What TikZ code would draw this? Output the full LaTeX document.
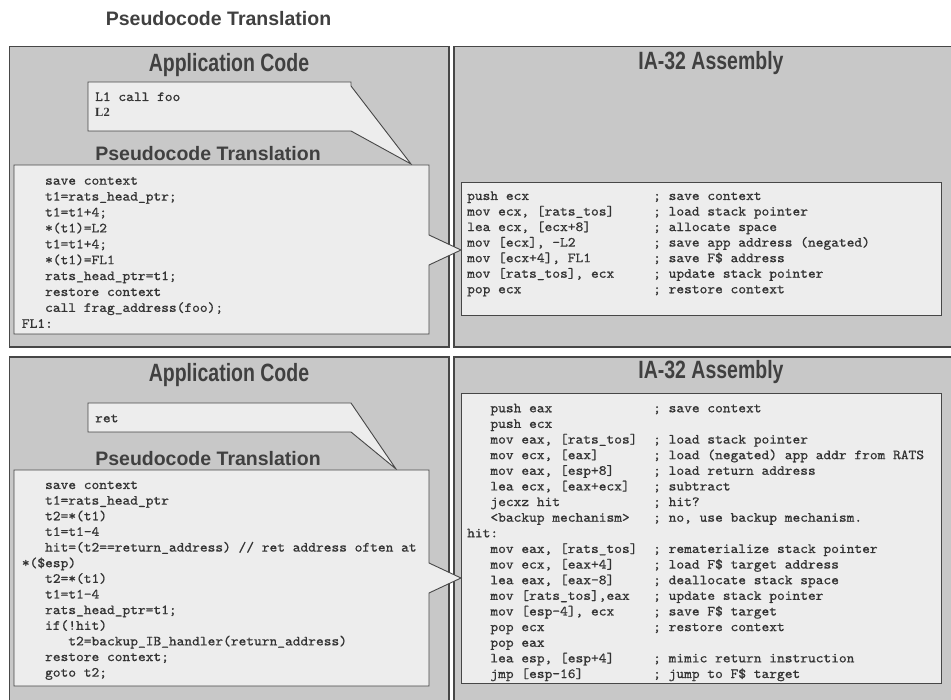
\documentclass[tikz,border=0pt]{standalone}
\usepackage{fontspec}
\usepackage{graphicx}
\setmainfont{Liberation Sans}
\newfontfamily\codefont{lmmono10-regular.otf}[FakeStretch=1.053,FakeBold=0.7]
\newfontfamily\serifL{Liberation Serif}
\definecolor{panelgray}{HTML}{C8C8C8}
\definecolor{boxgray}{HTML}{EDEDED}
\definecolor{edge}{HTML}{474747}
\definecolor{ink}{HTML}{333333}
\definecolor{titleink}{HTML}{404040}
\begin{document}
\begin{tikzpicture}[x=1pt,y=-1pt,
  panel/.style={fill=panelgray,draw=edge,line width=1.5pt},
  callout/.style={fill=boxgray,draw=edge,line width=0.9pt,line join=miter},
  code/.style={font=\codefont\fontsize{14}{16}\selectfont,text=ink,anchor=base west,inner sep=0pt},
  bigtitle/.style={font=\bfseries\fontsize{25}{28}\selectfont,text=titleink,anchor=base,inner sep=0pt},
  subtitle/.style={font=\bfseries\fontsize{19.5}{22}\selectfont,text=titleink,anchor=base,inner sep=0pt}]
\useasboundingbox (0,0) rectangle (951,700);
\clip (0,0) rectangle (951,700);

% header
\node[subtitle] (header) at (218.5,26) {Pseudocode Translation};

% panels
\path[panel] (9.5,46.5) rectangle (449,347);
\path[panel] (454,46.5) rectangle (962,347);
\path[panel] (9.5,357) rectangle (449,712);
\path[panel] (454,357) rectangle (962,712);

% panel titles
\node[bigtitle] (appT) at (229,72) {\scalebox{0.78}[1]{Application Code}};
\node[bigtitle] (asmT) at (711,70) {\scalebox{0.78}[1]{IA-32 Assembly}};
\node[bigtitle] (appB) at (229,382) {\scalebox{0.78}[1]{Application Code}};
\node[bigtitle] (asmB) at (711,379) {\scalebox{0.78}[1]{IA-32 Assembly}};

% assembly boxes
\path[callout] (461,182) rectangle (941,315);
\path[callout] (461,393) rectangle (941,683);

% application code callouts
\path[callout] (88,82) -- (351,82) -- (351,86) -- (411,164) -- (351,131) -- (88,131) -- cycle;
\path[callout] (88,403) -- (351,403) -- (396,469) -- (351,432) -- (88,432) -- cycle;

% pseudocode callouts
\path[callout] (14,165) -- (429,165) -- (429,235) -- (461,250) -- (429,265) -- (429,334) -- (14,334) -- cycle;
\path[callout] (14,470) -- (429,470) -- (429,563) -- (461,578) -- (429,593) -- (429,686) -- (14,686) -- cycle;

% pseudocode titles
\node[subtitle] (psT) at (208,161) {Pseudocode Translation};
\node[subtitle] (psB) at (208,466) {Pseudocode Translation};

% application code text
\node[code] (l1) at (95,101) {L1 call foo};
\node[code,font=\serifL\bfseries\fontsize{12.5}{15}\selectfont] (l2) at (95,117) {L2};
\node[code] (ret) at (95,422.3) {ret};

% top pseudocode
\foreach \ind/\txt [count=\i] in {
  3/{save context},
  3/{t1=rats\_head\_ptr;},
  3/{t1=t1+4;},
  3/{*(t1)=L2},
  3/{t1=t1+4;},
  3/{*(t1)=FL1},
  3/{rats\_head\_ptr=t1;},
  3/{restore context},
  3/{call frag\_address(foo);},
  0/{FL1:}}
  \node[code] (pt\i) at (21.7+\ind*7.74, 184.7+\i*15.9-15.9) {\txt};

% top assembly
\foreach \ins/\com [count=\i] in {
  {push ecx}/{; save context},
  {mov ecx, [rats\_tos]}/{; load stack pointer},
  {lea ecx, [ecx+8]}/{; allocate space},
  {mov [ecx], -L2}/{; save app address (negated)},
  {mov [ecx+4], FL1}/{; save F\$ address},
  {mov [rats\_tos], ecx}/{; update stack pointer},
  {pop ecx}/{; restore context}}
{
  \node[code] (ai\i) at (467, 200+\i*15.55-15.55) {\ins};
  \node[code] (ac\i) at (653, 200+\i*15.55-15.55) {\com};
}

% bottom pseudocode
\foreach \ind/\txt [count=\i] in {
  3/{save context},
  3/{t1=rats\_head\_ptr},
  3/{t2=*(t1)},
  3/{t1=t1-4},
  3/{hit=(t2==return\_address) // ret address often at},
  0/{*(\$esp)},
  3/{t2=*(t1)},
  3/{t1=t1-4},
  3/{rats\_head\_ptr=t1;},
  3/{if(!hit)},
  6/{t2=backup\_IB\_handler(return\_address)},
  3/{restore context;},
  3/{goto t2;}}
  \node[code] (pb\i) at (21.7+\ind*7.74, 489+\i*15.64-15.64) {\txt};

% bottom assembly
\foreach \ind/\ins/\com [count=\i] in {
  3/{push eax}/{; save context},
  3/{push ecx}/{},
  3/{mov eax, [rats\_tos]}/{; load stack pointer},
  3/{mov ecx, [eax]}/{; load (negated) app addr from RATS},
  3/{mov eax, [esp+8]}/{; load return address},
  3/{lea ecx, [eax+ecx]}/{; subtract},
  3/{jecxz hit}/{; hit?},
  3/{<backup mechanism>}/{; no, use backup mechanism.},
  0/{hit:}/{},
  3/{mov eax, [rats\_tos]}/{; rematerialize stack pointer},
  3/{mov ecx, [eax+4]}/{; load F\$ target address},
  3/{lea eax, [eax-8]}/{; deallocate stack space},
  3/{mov [rats\_tos],eax}/{; update stack pointer},
  3/{mov [esp-4], ecx}/{; save F\$ target},
  3/{pop ecx}/{; restore context},
  3/{pop eax}/{},
  3/{lea esp, [esp+4]}/{; mimic return instruction},
  3/{jmp [esp-16]}/{; jump to F\$ target}}
{
  \node[code] (bi\i) at (467+\ind*7.74, 412.3+\i*15.63-15.63) {\ins};
  \node[code] (bc\i) at (653, 412.3+\i*15.63-15.63) {\com};
}
\end{tikzpicture}
\end{document}
